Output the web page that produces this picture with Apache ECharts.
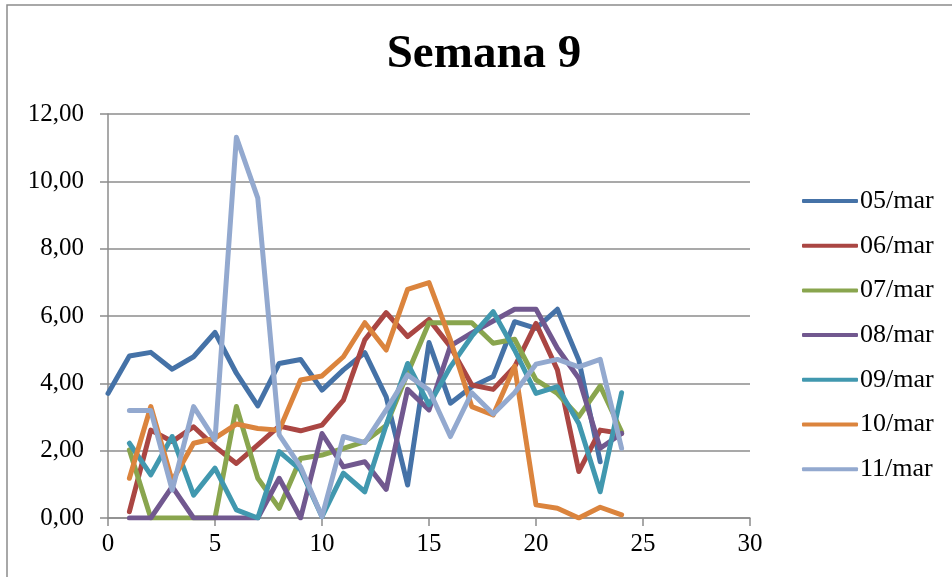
<!DOCTYPE html>
<html>
<head>
<meta charset="utf-8">
<script src="https://cdn.jsdelivr.net/npm/echarts@6/dist/echarts.min.js"></script>
<style>html,body{margin:0;padding:0;background:#fff;}#c{width:952px;height:577px;}</style>
</head>
<body>
<div id="c"></div>
<script>
const seriesNames = ['05/mar','06/mar','07/mar','08/mar','09/mar','10/mar','11/mar'];
const x05 = [0,1,2,3,4,5,6,7,8,9,10,11,12,13,14,15,16,17,18,19,20,21,22,23];
const xOthers = [1,2,3,4,5,6,7,8,9,10,11,12,13,14,15,16,17,18,19,20,21,22,23,24];
const v05 = [3.70,4.81,4.92,4.42,4.79,5.51,4.30,3.33,4.59,4.71,3.80,4.40,4.91,3.60,0.98,5.21,3.41,3.90,4.20,5.83,5.63,6.20,4.69,1.67];
const v06 = [0.19,2.61,2.27,2.71,2.12,1.62,2.17,2.73,2.59,2.76,3.50,5.29,6.10,5.39,5.90,5.09,3.95,3.82,4.49,5.78,4.40,1.38,2.61,2.51];
const v07 = [2.02,0,0,0,0,3.31,1.18,0.29,1.77,1.87,2.07,2.27,2.75,4.30,5.80,5.80,5.80,5.19,5.31,4.10,3.70,3.01,3.92,2.56];
const v08 = [0,0,0.93,0,0,0,0,1.18,0,2.51,1.52,1.67,0.85,3.82,3.21,5.11,5.50,5.85,6.20,6.20,5.04,4.15,2.07,2.51];
const v09 = [2.22,1.28,2.42,0.68,1.48,0.24,0,1.97,1.43,0.04,1.33,0.78,2.76,4.59,3.36,4.49,5.40,6.13,4.99,3.70,3.90,2.81,0.78,3.72];
const v10 = [1.18,3.31,1.10,2.22,2.37,2.79,2.66,2.61,4.10,4.22,4.79,5.80,4.99,6.79,6.99,5.29,3.31,3.06,4.51,0.39,0.29,0,0.32,0.09];
const v11 = [3.19,3.19,0.83,3.31,2.32,11.31,9.50,2.47,1.52,0.04,2.42,2.24,3.21,4.25,3.80,2.42,3.72,3.09,3.72,4.57,4.71,4.49,4.71,2.07];
const colors = ['#4572A7','#AA4643','#89A54E','#71588F','#4198AF','#DB843D','#93A9CF'];

const xs = [x05, xOthers, xOthers, xOthers, xOthers, xOthers, xOthers];
const vs = [v05, v06, v07, v08, v09, v10, v11];
const FONT = "'Liberation Serif', 'Times New Roman', serif";

const chart = echarts.init(document.getElementById('c'), null, {renderer: 'canvas'});
chart.setOption({
  animation: false,
  backgroundColor: '#fff',
  color: colors,
  graphic: [{
    type: 'rect',
    shape: {x: 7, y: 5, width: 1000, height: 650},
    style: {fill: 'none', stroke: '#8c8c8c', lineWidth: 1.5},
    z: -1
  }],
  title: {
    text: 'Semana 9',
    left: 479,
    top: 26,
    textAlign: 'center',
    textStyle: {fontFamily: FONT, fontSize: 47, fontWeight: 'bold', color: '#000'}
  },
  legend: {
    orient: 'vertical',
    left: 797,
    top: 183,
    itemWidth: 56,
    itemHeight: 4,
    itemGap: 18.7,
    icon: 'roundRect',
    textStyle: {fontFamily: FONT, fontSize: 26, color: '#000', lineHeight: 26, padding: [0,0,0,-3]},
    data: seriesNames
  },
  grid: {left: 108, right: 202, top: 114, bottom: 59, containLabel: false},
  xAxis: {
    type: 'value', min: 0, max: 30, interval: 5,
    axisLine: {show: true, lineStyle: {color: '#8c8c8c', width: 1.5}},
    axisTick: {show: true, length: 8, lineStyle: {color: '#8c8c8c', width: 1.5}},
    splitLine: {show: false},
    axisLabel: {fontFamily: FONT, fontSize: 25, color: '#000', margin: 14}
  },
  yAxis: {
    type: 'value', min: 0, max: 12, interval: 2,
    axisLine: {show: true, lineStyle: {color: '#8c8c8c', width: 1.5}},
    axisTick: {show: true, length: 8, lineStyle: {color: '#8c8c8c', width: 1.5}},
    splitLine: {show: true, lineStyle: {color: '#8c8c8c', width: 1.5}},
    axisLabel: {fontFamily: FONT, fontSize: 25, color: '#000', margin: 24,
      formatter: v => v.toFixed(2).replace('.', ',')}
  },
  series: seriesNames.map((n, i) => ({
    name: n,
    type: 'line',
    data: xs[i].map((x, j) => [x, vs[i][j]]),
    symbol: 'none',
    showSymbol: false,
    lineStyle: {width: 5, color: colors[i], cap: 'round', join: 'round'},
    itemStyle: {color: colors[i]},
    z: 2 + i
  }))
});
</script>
</body>
</html>
